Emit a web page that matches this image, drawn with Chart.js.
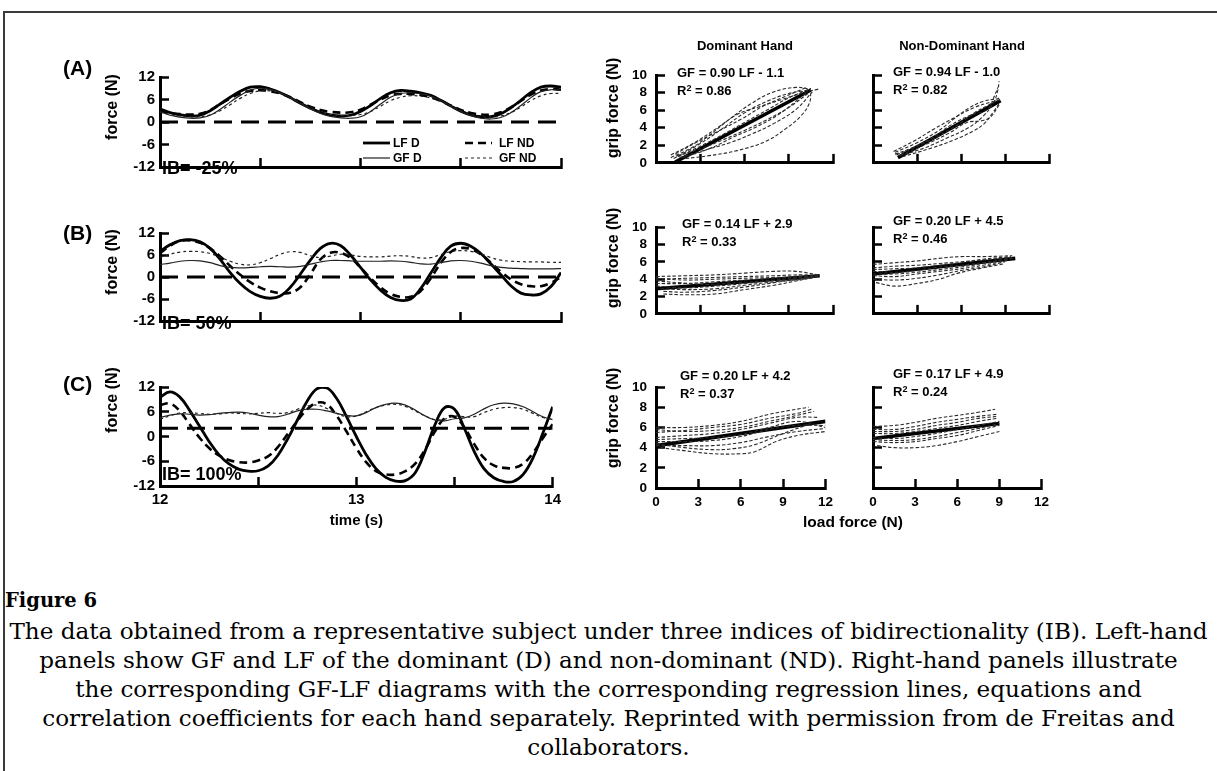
<!DOCTYPE html>
<html><head><meta charset="utf-8">
<script src="https://cdn.jsdelivr.net/npm/chart.js@4.4.1/dist/chart.umd.min.js"></script>
<style>
html,body{margin:0;padding:0;background:#fff;}
#fig{position:relative;width:1217px;height:771px;overflow:hidden;font-family:"Liberation Sans",Arial,sans-serif;color:#000;}
#fig canvas{position:absolute;}
.tx{position:absolute;font-weight:bold;white-space:nowrap;line-height:1;}
.tx sup{font-size:70%;vertical-align:0;position:relative;top:-0.45em;}
#frameTop{position:absolute;left:3px;top:11px;width:1214px;height:0;border-top:2px solid #3a3a3a;}
#frameLeft{position:absolute;left:3px;top:11px;width:0;height:760px;border-left:2px solid #3a3a3a;}
#figTitle{position:absolute;left:5px;top:589px;font-family:"DejaVu Serif",serif;font-weight:bold;font-size:19.5px;line-height:24px;}
#caption{position:absolute;left:0;top:617px;width:1217px;text-align:center;font-family:"DejaVu Serif",serif;font-size:22px;line-height:29px;transform:scaleX(1.05);transform-origin:608px 0;}
</style></head>
<body>
<div id="fig">
<div id="frameTop"></div><div id="frameLeft"></div>
<svg id="legend" style="position:absolute;left:355px;top:132px" width="150" height="36">
  <line x1="8" y1="11" x2="35" y2="11" stroke="#000" stroke-width="2.8"/>
  <line x1="8" y1="26" x2="35" y2="26" stroke="#222" stroke-width="1.2"/>
  <line x1="110" y1="11" x2="137" y2="11" stroke="#000" stroke-width="2.6" stroke-dasharray="8,5"/>
  <line x1="110" y1="26" x2="137" y2="26" stroke="#222" stroke-width="1.2" stroke-dasharray="3,3"/>
</svg>
<div id="figTitle">Figure 6</div>
<div id="caption">The data obtained from a representative subject under three indices of bidirectionality (IB). Left-hand<br>panels show GF and LF of the dominant (D) and non-dominant (ND). Right-hand panels illustrate<br>the corresponding GF-LF diagrams with the corresponding regression lines, equations and<br>correlation coefficients for each hand separately. Reprinted with permission from de Freitas and<br>collaborators.</div>
</div>
<script>
// ---------------- DATA ----------------
const timeSec = [12.00,12.05,12.10,12.15,12.20,12.25,12.30,12.35,12.40,12.45,12.50,12.55,12.60,12.65,12.70,12.75,12.80,12.85,12.90,12.95,
  13.00,13.05,13.10,13.15,13.20,13.25,13.30,13.35,13.40,13.45,13.50,13.55,13.60,13.65,13.70,13.75,13.80,13.85,13.90,13.95,14.00];
const timeTicks = [12, 13, 14];

// Panel A (IB = -25%)
const lfD_A  = [3.5,2.5,1.9,1.6,1.8,3.0,4.8,6.6,8.2,9.3,9.4,8.8,7.8,6.5,5.0,3.7,2.6,1.9,1.6,1.8,2.8,4.4,6.3,7.8,8.4,8.2,7.8,7.1,5.8,4.3,2.9,1.9,1.4,1.4,2.2,3.8,5.8,7.9,9.3,9.6,9.3];
const gfD_A  = [2.8,1.8,1.3,1.0,1.1,1.8,3.4,5.3,7.1,8.5,9.0,8.7,7.8,6.5,5.0,3.5,2.3,1.5,1.1,1.0,1.4,2.8,4.8,6.6,7.6,7.8,7.5,6.9,5.8,4.3,2.8,1.7,1.0,0.8,1.2,2.5,4.4,6.5,8.1,8.6,8.5];
const lfND_A = [3.0,2.4,2.1,2.0,2.2,3.2,4.8,6.3,7.6,8.3,8.5,8.2,7.6,6.6,5.3,4.1,3.2,2.7,2.5,2.6,3.3,4.6,6.0,7.1,7.5,7.5,7.2,6.6,5.6,4.4,3.2,2.4,2.0,2.0,2.6,3.9,5.6,7.3,8.4,8.8,8.6];
const gfND_A = [2.6,2.0,1.6,1.4,1.4,1.9,3.0,4.6,6.3,7.6,8.3,8.3,7.7,6.6,5.2,3.8,2.7,2.0,1.7,1.7,2.0,2.8,4.2,5.7,6.6,7.0,6.9,6.4,5.5,4.3,3.0,2.0,1.5,1.3,1.6,2.5,4.0,5.7,7.0,7.6,7.6];
// Panel B (IB = 50%)
const lfD_B  = [7.0,8.8,9.9,10.2,9.6,7.8,4.8,1.2,-1.8,-4.0,-5.3,-5.8,-5.2,-2.8,0.8,4.6,7.8,9.2,8.6,6.0,2.6,-0.8,-3.6,-5.6,-6.4,-6.0,-3.2,1.0,5.2,8.4,9.2,8.4,6.4,3.6,0.6,-2.4,-4.4,-4.9,-4.6,-2.6,1.2];
const gfD_B  = [3.4,3.8,4.3,4.5,4.4,3.9,3.1,2.6,2.5,2.6,2.8,2.9,2.8,2.7,2.9,3.5,4.1,4.5,4.5,4.4,4.3,4.3,4.3,4.4,4.3,4.0,3.6,3.5,3.9,4.4,4.5,4.3,3.8,3.1,2.6,2.4,2.3,2.2,2.2,2.2,2.3];
const lfND_B = [6.5,8.5,9.8,10.0,9.3,7.8,5.6,3.0,0.6,-1.4,-2.9,-3.9,-4.4,-4.3,-2.8,0.8,4.8,6.6,6.6,5.2,2.6,-0.3,-2.8,-4.6,-5.4,-5.4,-3.8,-0.4,3.8,6.8,7.9,7.6,6.2,3.9,1.4,-0.6,-2.0,-2.5,-2.5,-1.6,0.0];
const gfND_B = [5.3,6.2,6.8,7.0,6.9,6.4,5.4,4.3,3.5,3.3,3.9,5.0,6.2,6.9,6.7,5.8,5.3,5.7,6.2,6.0,5.6,5.5,5.5,5.7,5.8,5.6,5.2,5.3,6.1,6.9,7.2,7.0,6.3,5.3,4.6,4.3,4.2,4.1,4.1,4.0,4.0];
// Panel C (IB = 100%)
const lfD_C  = [9.5,10.8,9.6,6.4,2.6,-1.2,-4.4,-6.6,-7.9,-8.4,-8.3,-7.2,-4.6,-0.6,4.0,8.6,11.6,11.8,9.2,4.8,0.0,-4.4,-7.8,-9.9,-10.8,-10.7,-8.8,-3.6,2.8,7.0,6.6,2.0,-3.6,-7.8,-10.0,-10.9,-10.9,-9.2,-5.2,0.8,7.2];
const gfD_C  = [4.6,5.2,5.5,5.4,5.2,5.3,5.6,5.8,5.9,5.7,5.2,4.8,4.8,5.4,6.2,6.6,6.6,6.2,5.6,5.1,5.0,5.8,7.0,7.8,8.1,7.6,6.4,5.0,4.0,3.8,4.3,4.5,5.4,6.7,7.7,8.1,7.9,7.2,6.0,4.8,4.1];
const lfND_C = [7.6,8.0,6.2,3.0,-0.2,-2.8,-4.6,-5.7,-6.2,-6.3,-5.8,-4.8,-2.6,0.6,3.8,6.6,8.2,7.8,5.0,1.2,-2.8,-6.2,-8.4,-9.2,-9.2,-8.4,-6.6,-3.2,1.2,4.4,4.8,2.2,-1.8,-5.2,-7.0,-7.6,-7.6,-6.6,-4.0,-0.4,3.0];
const gfND_C = [4.2,5.0,5.7,5.8,5.6,5.4,5.5,5.7,5.6,5.5,5.6,5.8,5.6,5.8,6.6,7.4,7.6,6.8,5.6,4.8,5.0,6.0,7.0,7.6,7.8,7.3,6.2,5.0,4.1,4.2,5.0,4.8,4.8,5.8,6.6,7.0,7.0,6.6,5.6,4.6,4.2];
// horizontal reference level per panel (A, B, C)
const refLevel = [0, 0, 2];
const forceTicks = [-12, -6, 0, 6, 12];

// GF-LF loops  [load force, grip force]
const loopsDomA = [
 [[1.0,0.6],[2.5,1.8],[3.5,3.0],[5.0,5.0],[6.5,6.8],[8.0,8.1],[9.5,8.6],[10.5,8.4]],
 [[1.2,0.5],[3.0,2.2],[4.5,3.9],[6.0,5.7],[7.5,7.0],[9.0,7.9],[10.4,8.3]],
 [[1.5,0.7],[3.0,1.9],[4.5,3.2],[6.0,4.6],[7.5,6.0],[9.0,7.4],[10.5,8.5]],
 [[1.4,0.8],[3.0,1.6],[4.5,2.6],[6.0,3.7],[7.5,4.9],[9.0,6.3],[10.3,7.9]],
 [[1.6,0.6],[3.2,1.4],[5.0,2.3],[6.5,3.3],[8.0,4.5],[9.5,6.1],[10.6,8.1]],
 [[2.0,0.5],[3.5,0.8],[5.5,1.4],[7.5,2.5],[8.8,3.9],[9.8,5.3],[10.4,6.8],[10.5,8.0]],
 [[1.0,0.9],[2.5,2.2],[4.0,3.8],[5.5,5.5],[7.0,6.4],[8.5,7.2],[10.0,8.0],[11.0,8.4]],
 [[1.3,1.0],[2.8,2.4],[4.2,3.6],[5.8,5.0],[7.2,6.4],[8.8,7.6],[10.2,8.6]],
 [[1.8,0.6],[3.6,1.6],[5.2,2.9],[6.8,4.1],[8.2,5.4],[9.4,6.9],[10.3,8.2]]
];
const loopsNonA = [
 [[1.5,1.2],[3.0,2.3],[4.5,3.7],[5.5,5.0],[6.5,6.2],[7.5,7.0],[8.5,7.3]],
 [[1.6,0.9],[3.0,1.9],[4.5,3.1],[6.0,4.6],[7.0,5.8],[8.0,6.7],[8.6,7.4]],
 [[1.8,0.8],[3.5,1.7],[5.0,2.8],[6.5,4.0],[7.5,5.3],[8.2,6.8],[8.5,8.2],[8.6,9.3]],
 [[2.0,0.7],[4.0,1.7],[5.5,2.6],[6.8,3.6],[7.6,4.5],[8.2,5.8],[8.7,7.0]],
 [[1.5,1.0],[2.5,1.6],[4.0,2.8],[5.3,4.3],[6.6,5.4],[7.8,6.1],[8.3,7.7],[8.5,8.6]],
 [[1.4,1.3],[2.8,2.5],[4.2,3.9],[5.6,5.2],[6.9,6.3],[8.0,6.9],[8.8,7.2]],
 [[1.9,0.9],[3.6,2.1],[5.2,3.4],[6.4,4.6],[7.4,4.8],[8.0,5.2],[8.6,6.6]]
];
const loopsDomB = [
 [[0,4.3],[2,4.4],[4,4.5],[6,4.7],[8,4.9],[9.5,4.9],[11,4.5]],
 [[0,4.0],[2,4.1],[4,4.2],[6,4.3],[8,4.4],[10,4.5],[11,4.4]],
 [[0,3.5],[2,3.5],[4,3.7],[6,3.9],[8,4.1],[10,4.3],[11,4.4]],
 [[0,3.2],[2,3.0],[4,3.2],[6,3.5],[8,3.9],[10,4.2],[11,4.5]],
 [[0.5,2.6],[2,2.5],[4,2.7],[6,3.1],[8,3.6],[10,4.1],[11,4.4]],
 [[0.5,2.3],[2,2.2],[4,2.3],[6,2.8],[8,3.3],[9.5,3.8],[11,4.3]],
 [[0,3.8],[1.5,3.6],[3.5,3.4],[5.5,3.6],[7.5,3.8],[9.5,4.0],[11,4.4]],
 [[0,4.1],[2,3.9],[4,4.0],[6,4.1],[8,4.2],[10,4.3],[11,4.4]],
 [[0.3,2.9],[2,2.8],[4,2.9],[6,3.3],[8,3.7],[10,4.0],[11,4.3]]
];
const loopsNonB = [
 [[0,5.7],[1.5,5.9],[3,6.1],[4.5,6.4],[6,6.6],[7.5,6.6],[9.5,6.7]],
 [[0,5.3],[1.5,5.5],[3,5.6],[4.5,5.8],[6,6.0],[7.5,6.2],[9.5,6.5]],
 [[0,4.9],[1.5,4.8],[3,5.0],[4.5,5.4],[6,5.6],[7.5,5.9],[9.5,6.4]],
 [[0,4.4],[1.5,4.3],[3,4.6],[4.5,4.9],[6,5.2],[7.5,5.6],[9.3,6.2]],
 [[0,4.0],[1.5,3.9],[3,4.1],[4.5,4.5],[6,5.0],[7.5,5.4],[9,6.0]],
 [[0.2,3.6],[1.5,3.2],[3,3.5],[4.5,4.0],[5.8,4.7],[7.5,5.3],[9,5.8]],
 [[0,5.1],[1.5,5.2],[3,5.3],[4.5,5.6],[6,5.9],[7.5,6.3],[9.4,6.6]],
 [[0,4.6],[1.5,4.6],[3,4.8],[4.5,5.1],[6,5.4],[7.5,5.8],[9.2,6.3]]
];
const loopsDomC = [
 [[0,6.0],[2,6.0],[4,6.2],[6,6.6],[8,7.3],[9.5,7.7],[10.8,8.0]],
 [[0,5.5],[2,5.7],[4,6.0],[6,6.3],[8,6.9],[10,7.4],[11,7.8]],
 [[0,5.0],[2,5.2],[4,5.4],[6,5.8],[8,6.4],[10,7.0],[11.5,7.0]],
 [[0,4.6],[2,4.6],[4,4.7],[6,5.1],[8,5.8],[10,6.2],[12,6.2]],
 [[0,4.2],[2,4.2],[4,4.2],[6,4.5],[8,5.1],[10,5.6],[12,5.9]],
 [[0.3,4.0],[2,3.7],[4,3.4],[6,3.4],[7,3.6],[8.5,4.6],[10,5.2],[12,5.6]],
 [[0,4.4],[2,4.0],[4,3.8],[5.5,3.9],[7,4.3],[9,5.4],[11,6.4]],
 [[0,5.8],[2,5.6],[4,5.7],[6,6.0],[8,6.6],[10,7.2],[11.2,7.6]],
 [[0,4.8],[2,4.9],[4,5.0],[6,5.3],[8,6.0],[10,6.6],[12,6.0]]
];
const loopsNonC = [
 [[0,6.1],[1.5,6.2],[3,6.5],[4.5,6.9],[6,7.2],[7.5,7.5],[8.7,7.8]],
 [[0,5.8],[1.5,5.8],[3,6.1],[4.5,6.5],[6,6.8],[7.5,7.1],[8.8,7.3]],
 [[0,5.4],[1.5,5.4],[3,5.6],[4.5,5.9],[6,6.2],[7.5,6.6],[8.8,6.9]],
 [[0,5.0],[1.5,4.9],[3,5.1],[4.5,5.4],[6,5.8],[7.5,6.2],[9,6.6]],
 [[0,4.6],[1.5,4.5],[3,4.6],[4.5,4.9],[6,5.2],[7.5,5.7],[9,6.2]],
 [[0.3,4.2],[1.5,4.0],[3,4.0],[4.5,4.2],[6,4.6],[7.5,5.1],[9,5.6]],
 [[0,5.6],[1.5,5.6],[3,5.8],[4.5,6.2],[6,6.5],[7.5,6.9],[8.9,7.1]],
 [[0,4.8],[1.5,4.7],[3,4.8],[4.5,5.1],[6,5.5],[7.5,5.9],[9,6.4]]
];
// regression line end points [LF, GF]
const regDomA = [[1.3,0.1],[10.5,8.3]];
const regNonA = [[1.7,0.6],[8.7,7.1]];
const regDomB = [[0,2.9],[11.1,4.4]];
const regNonB = [[0,4.6],[9.7,6.4]];
const regDomC = [[0,4.2],[12,6.6]];
const regNonC = [[0,4.9],[9.0,6.4]];
const equations = ['GF = 0.90 LF - 1.1','GF = 0.94 LF - 1.0','GF = 0.14 LF + 2.9','GF = 0.20 LF + 4.5','GF = 0.20 LF + 4.2','GF = 0.17 LF + 4.9'];
const rSquared  = ['0.86','0.82','0.33','0.46','0.37','0.24'];
const panelLabels = ['(A)','(B)','(C)'];
const ibLabels = ['IB= -25%','IB= 50%','IB= 100%'];

// ---------------- RENDER ----------------
Chart.defaults.font.family = '"Liberation Sans", Arial, sans-serif';
Chart.defaults.font.weight = 'bold';
Chart.defaults.color = '#000';
const fig = document.getElementById('fig');

function addCanvas(left, top, w, h) {
  const c = document.createElement('canvas');
  c.width = w; c.height = h;
  c.style.left = left + 'px'; c.style.top = top + 'px';
  c.style.width = w + 'px'; c.style.height = h + 'px';
  fig.appendChild(c);
  return c;
}
function text(html, x, cy, size, align) {
  const d = document.createElement('div');
  d.className = 'tx'; d.innerHTML = html;
  d.style.fontSize = size + 'px';
  d.style.left = x + 'px'; d.style.top = cy + 'px';
  d.style.transform = align === 'center' ? 'translate(-50%,-50%)' : 'translateY(-50%)';
  fig.appendChild(d);
}
function vtext(str, cx, cy, size) {
  const d = document.createElement('div');
  d.className = 'tx'; d.textContent = str;
  d.style.fontSize = size + 'px';
  d.style.left = cx + 'px'; d.style.top = cy + 'px';
  d.style.transform = 'translate(-50%,-50%) rotate(-90deg)';
  fig.appendChild(d);
}
function axis(min, max, step, labelFn, pad, fsize) {
  return {
    type: 'linear', min: min, max: max,
    ticks: {stepSize: step, padding: pad, autoSkip: false, maxRotation: 0, color: '#000',
            font: {size: fsize, weight: 'bold'}, callback: labelFn},
    grid: {drawOnChartArea: false, drawTicks: true, tickLength: -9, tickWidth: 2.5, tickColor: '#000'},
    border: {display: true, width: 3, color: '#000'}
  };
}
const xy = (xs, ys) => xs.map((x, i) => ({x: x, y: ys[i]}));
const pairs = arr => arr.map(p => ({x: p[0], y: p[1]}));
const noLabel = () => '';

const timeRows = [
  {top: 68, bottom: 178, s: [lfD_A, gfD_A, lfND_A, gfND_A]},
  {top: 224, bottom: 332, s: [lfD_B, gfD_B, lfND_B, gfND_B]},
  {top: 378, bottom: 486, s: [lfD_C, gfD_C, lfND_C, gfND_C]}
];
timeRows.forEach((row, r) => {
  const pad = 14, cl = 60, chartL = 160, chartR = 561;
  const showX = r === 2;
  const bottomH = showX ? 44 : 12;
  const ct = row.top - pad;
  const c = addCanvas(cl, ct, chartR + pad - cl, row.bottom + bottomH - ct);
  const ref = refLevel[r];
  new Chart(c, {
    type: 'line',
    data: {datasets: [
      {data: xy(timeSec, row.s[3]), borderColor: '#222', borderWidth: 1.2, borderDash: [3, 3]},
      {data: xy(timeSec, row.s[1]), borderColor: '#222', borderWidth: 1.2},
      {data: xy(timeSec, row.s[2]), borderColor: '#000', borderWidth: 2.6, borderDash: [8, 5]},
      {data: xy(timeSec, row.s[0]), borderColor: '#000', borderWidth: 2.8},
      {data: [{x: timeSec[0], y: ref}, {x: timeSec[timeSec.length - 1], y: ref}], borderColor: '#000', borderWidth: 3.2, borderDash: [18, 9], tension: 0}
    ]},
    options: {
      responsive: false, animation: false, devicePixelRatio: 1,
      layout: {padding: {left: 0, top: pad, right: pad, bottom: 0}},
      elements: {point: {radius: 0}, line: {tension: 0.4, fill: false}},
      plugins: {legend: {display: false}, tooltip: {enabled: false}},
      scales: {
        x: Object.assign(axis(12, 14, 0.5, showX ? (v => timeTicks.includes(v) ? String(v) : '') : noLabel, 14, 15), {
          afterFit: s => { s.height = bottomH; },
          title: {display: showX, text: 'time (s)', padding: 0, font: {size: 15, weight: 'bold'}, color: '#000'}
        }),
        y: Object.assign(axis(-12, 12, 6, v => forceTicks.includes(v) ? String(v) : '', 14, 15), {
          afterFit: s => { s.width = chartL - cl; }
        })
      }
    }
  });
});

const gfRows = [{top: 63, bottom: 177}, {top: 215, bottom: 328}, {top: 375, bottom: 488}];
const gfCols = [{cl: 600, l: 656, r: 834}, {cl: 850, l: 873, r: 1050}];
const loopSets = [loopsDomA, loopsNonA, loopsDomB, loopsNonB, loopsDomC, loopsNonC];
const regSets = [regDomA, regNonA, regDomB, regNonB, regDomC, regNonC];
gfRows.forEach((row, r) => {
  gfCols.forEach((col, k) => {
    const idx = r * 2 + k;
    const pad = 14;
    const showX = r === 2;
    const bottomH = showX ? 30 : 12;
    const ct = row.top - pad;
    const c = addCanvas(col.cl, ct, col.r + pad - col.cl, row.bottom + bottomH - ct);
    const ds = loopSets[idx].map(l => ({data: pairs(l), borderColor: '#2a2a2a', borderWidth: 1.1, borderDash: [3.5, 2]}));
    ds.push({data: pairs(regSets[idx]), borderColor: '#000', borderWidth: 3.6, tension: 0});
    new Chart(c, {
      type: 'line',
      data: {datasets: ds},
      options: {
        responsive: false, animation: false, devicePixelRatio: 1,
        layout: {padding: {left: 0, top: pad, right: pad, bottom: 0}},
        elements: {point: {radius: 0}, line: {tension: 0.4, fill: false}},
        plugins: {legend: {display: false}, tooltip: {enabled: false}},
        scales: {
          x: Object.assign(axis(0, 12, 3, showX ? (v => String(v)) : noLabel, 15, 13.5), {
            afterFit: s => { s.height = bottomH; }
          }),
          y: Object.assign(axis(0, 10, 2, k === 0 ? (v => String(v)) : noLabel, 18, 13.5), {
            afterFit: s => { s.width = col.l - col.cl; }
          })
        }
      }
    });
    const ex = k === 0 ? [677, 682, 680][r] : 893;
    const ey = [[72, 71], [223, 220], [375, 373]][r][k];
    text(equations[idx], ex, ey, 13);
    text('R<sup>2</sup> = ' + rSquared[idx], ex, ey + 19, 13);
  });
});

// panel annotations
[67, 232, 383].forEach((y, i) => text(panelLabels[i], 63, y, 21));
[168, 323, 474].forEach((y, i) => text(ibLabels[i], 162, y, 18));
[107, 262, 400].forEach(y => vtext('force (N)', 112, y, 16));
[108, 258, 418].forEach(y => vtext('grip force (N)', 613, y, 16));
text('Dominant Hand', 745, 45, 13, 'center');
text('Non-Dominant Hand', 962, 45, 13, 'center');
text('load force (N)', 853, 522, 15.5, 'center');
text('LF D', 393, 143, 12);
text('GF D', 393, 158, 12);
text('LF ND', 499, 143, 12);
text('GF ND', 499, 158, 12);
</script>
</body></html>
